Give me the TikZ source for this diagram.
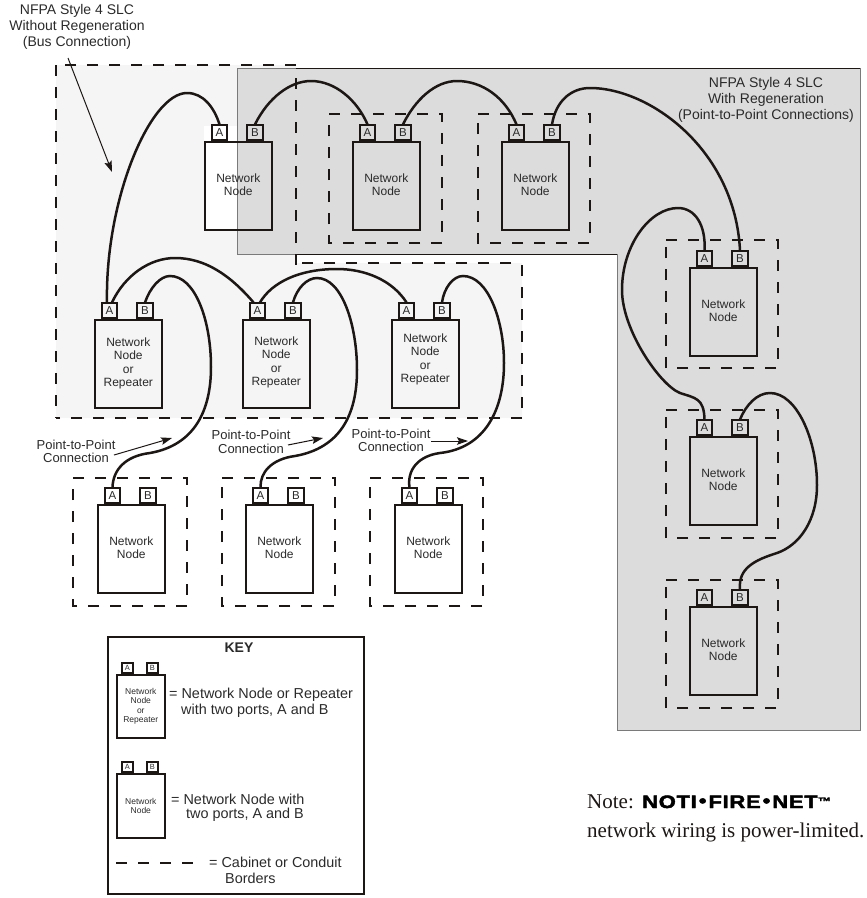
\documentclass[tikz,border=0pt]{standalone}
\usepackage{fontspec}
\setmainfont{Liberation Sans}
\newfontfamily\serifnote{Liberation Serif}
\newfontfamily\heavyfont[FakeBold=2.5,FakeStretch=1.22,LetterSpace=4]{Liberation Sans Bold}
\usetikzlibrary{arrows.meta}
\definecolor{ink}{HTML}{1C1715}
\definecolor{txt}{HTML}{2A2A2A}
\definecolor{lightzone}{HTML}{F5F5F5}
\definecolor{grayzone}{HTML}{DCDCDC}
\definecolor{zoneedge}{HTML}{7A7A7A}
\tikzset{
  nodebox/.style={draw=ink,line width=1.6pt,anchor=north west,inner sep=0pt,minimum width=67pt,minimum height=88pt},
  nodelabel/.style={inner sep=0pt,align=center,text=txt,font=\fontsize{12}{13.2}\selectfont},
  portbox/.style={draw=ink,line width=1.6pt,anchor=south,inner sep=0pt,minimum width=15.5pt,minimum height=15pt,text=txt,font=\fontsize{11.5}{12}\selectfont},
  keynode/.style={draw=ink,line width=1.6pt,anchor=north west,inner sep=0pt,minimum width=48pt,align=center,text=txt,font=\fontsize{8.5}{9.6}\selectfont},
  keyport/.style={draw=ink,line width=1.6pt,anchor=south,inner sep=0pt,minimum width=11pt,minimum height=10pt,text=txt,font=\fontsize{7.5}{8}\selectfont},
  border/.style={draw=ink,line width=1.7pt,dash pattern=on 11pt off 11pt},
  wire/.style={draw=ink,line width=2.5pt},
  pointer/.style={draw=ink,line width=1pt,-{Stealth[length=11pt,width=7.5pt,inset=2pt]}},
  caption/.style={inner sep=0pt,align=center,text=txt,font=\fontsize{14}{16.2}\selectfont},
  ptp/.style={inner sep=0pt,align=center,text=txt,font=\fontsize{13}{13.6}\selectfont},
  keytext/.style={inner sep=0pt,anchor=west,text=txt,font=\fontsize{14.4}{16}\selectfont},
}
\newcommand{\netnode}[5][1]{%
  \node[nodebox] (#2) at (#3,#4) {};
  \node[nodelabel] (#2t) at ([yshift=#1pt]#2.center) {#5};
  \node[portbox] (#2a) at (#3+15.5,#4) {A};
  \node[portbox] (#2b) at (#3+51,#4) {B};
}
\newcommand{\cabinetbox}[4]{\draw[border] (#1,#2) -- (#3,#2) -- (#3,#4) -- (#1,#4) -- (#1,#2);}
\begin{document}
\begin{tikzpicture}[x=1pt,y=-1pt]
\useasboundingbox (0,0) rectangle (867,898);
% zones
\fill[lightzone] (56,65) -- (296,65) -- (296,263) -- (522,263) -- (522,418) -- (56,418) -- cycle;
\fill[white] (204,126) rectangle (271,229);
\fill[grayzone] (237,68.5) -- (860,68.5) -- (860,730.5) -- (617,730.5) -- (617,254.5) -- (237,254.5) -- cycle;
\draw[zoneedge,line width=1pt] (237,68.5) -- (860,68.5) -- (860,730.5) -- (617,730.5) -- (617,254.5) -- (237,254.5) -- cycle;
\draw[ink,line width=1pt] (296,68.5) -- (860,68.5);
\draw[ink,line width=1pt] (296,254.5) -- (617,254.5);
% bus zone border, side by side so that the dashes fall as in the original
\draw[border] (56,65) -- (56,418);
\draw[border] (522,418) -- (56,418);
\draw[border] (522,265) -- (522,418);
\draw[border,dash phase=11pt] (522,263) -- (296,263);
\draw[border] (296,78) -- (296,265);
\draw[border] (296,65) -- (56,65);
% cabinets
\cabinetbox{329}{114}{442}{243}
\cabinetbox{478}{114}{590}{243}
\cabinetbox{73}{478}{187}{606}
\cabinetbox{222}{478}{335}{606}
\cabinetbox{370}{478}{483}{606}
\cabinetbox{666}{240}{778}{368}
\cabinetbox{666}{410}{778}{538}
\cabinetbox{666}{580}{778}{708}
% nodes
\netnode{n1}{204}{141}{Network\\Node}
\netnode{n2}{352}{141}{Network\\Node}
\netnode{n3}{501}{141}{Network\\Node}
\netnode[0.5]{n4}{94}{319}{Network\\Node\\or\\Repeater}
\netnode[1.5]{n5}{242}{319}{Network\\Node\\or\\Repeater}
\netnode[4.5]{n6}{391}{319}{Network\\Node\\or\\Repeater}
\netnode{n7}{97}{504}{Network\\Node}
\netnode{n8}{245}{504}{Network\\Node}
\netnode{n9}{394}{504}{Network\\Node}
\netnode{r1}{689}{267}{Network\\Node}
\netnode{r2}{689}{436}{Network\\Node}
\netnode{r3}{689}{606}{Network\\Node}
% wires
\draw[wire] ([xshift=-2.5pt]n4a.north) .. controls (105,200) and (150,93) .. (187,93) .. controls (203,93) and (214,107) .. (n1a.north);
\draw[wire] (n1b.north) .. controls (268,98) and (290,81) .. (311,81) .. controls (335,81) and (357,100) .. (n2a.north);
\draw[wire] (n2b.north) .. controls (415,100) and (435,81) .. (457,81) .. controls (482,81) and (505,97) .. (n3a.north);
\draw[wire] (n3b.north) .. controls (556,100) and (572,88) .. (590,88) .. controls (650,88) and (735,150) .. (r1b.north);
\draw[wire] (r1a.north) .. controls (706,225) and (695,208) .. (678,208) .. controls (650,208) and (622,245) .. (622,290) .. controls (622,330) and (660,385) .. (680,393) .. controls (695,398) and (704,398) .. (r2a.north);
\draw[wire] (r2b.north) .. controls (746,405) and (757,393) .. (770,393) .. controls (797,393) and (817,440) .. (817,485) .. controls (817,520) and (800,545) .. (777,553) .. controls (755,560) and (738,568) .. (r3b.north);
\draw[wire] ([xshift=2.5pt]n4a.north) .. controls (125,275) and (150,258) .. (175,258) .. controls (205,258) and (230,275) .. ([xshift=-4pt]n5a.north);
\draw[wire] ([xshift=2.5pt]n5a.north) .. controls (272,282) and (300,269) .. (337,269) .. controls (365,269) and (392,280) .. (n6a.north);
\draw[wire] (n4b.north) .. controls (150,288) and (160,276) .. (170,276) .. controls (195,276) and (211,320) .. (211,367) .. controls (211,410) and (195,445) .. (150,453) .. controls (125,456) and (113,470) .. (n7a.north);
\draw[wire] (n5b.north) .. controls (297,288) and (307,278) .. (317,278) .. controls (342,278) and (357,325) .. (357,370) .. controls (357,415) and (340,448) .. (295,456) .. controls (272,459) and (260,472) .. (n8a.north);
\draw[wire] (n6b.north) .. controls (444,288) and (453,276) .. (463,276) .. controls (488,276) and (504,320) .. (504,363) .. controls (504,410) and (485,448) .. (440,453) .. controls (418,456) and (407,470) .. (n9a.north);
% captions
\node[caption] (capa) at (77,27) {NFPA Style 4 SLC\\Without Regeneration\\(Bus Connection)};
\node[caption] (capb) at (766,100) {NFPA Style 4 SLC\\With Regeneration\\(Point-to-Point Connections)};
\coordinate (capatail) at (68,58);
\coordinate (capatip) at (112,172);
\draw[pointer] (capatail) -- (capatip);
\node[ptp] (pa) at (76,451.5) {Point-to-Point\\Connection};
\node[ptp] (pb) at (251,442) {Point-to-Point\\Connection};
\node[ptp] (pc) at (391,440.5) {Point-to-Point\\Connection};
\coordinate (pat) at (114,455); \coordinate (pah) at (172,438);
\coordinate (pbt) at (288,445); \coordinate (pbh) at (323,438);
\coordinate (pct) at (431,441); \coordinate (pch) at (468,441);
\draw[pointer] (pat) -- (pah);
\draw[pointer] (pbt) -- (pbh);
\draw[pointer] (pct) -- (pch);
% key
\node[draw=ink,line width=2.2pt,anchor=north west,inner sep=0pt,minimum width=256pt,minimum height=257pt] (keyframe) at (107,636) {};
\node[inner sep=0pt,text=txt,font=\bfseries\fontsize{14}{16}\selectfont] (keytitle) at (239,648) {KEY};
\node[keynode,minimum height=63pt] (k1) at (116,674) {Network\\Node\\or\\Repeater};
\node[keyport] (k1a) at (127.5,674) {A};
\node[keyport] (k1b) at (152.5,674) {B};
\node[keynode,minimum height=64pt] (k2) at (116,773) {Network\\Node};
\node[keyport] (k2a) at (127.5,773) {A};
\node[keyport] (k2b) at (152.5,773) {B};
\node[keytext] (t1) at (169,695) {= Network Node or Repeater};
\node[keytext] (t2) at (181,711) {with two ports, A and B};
\node[keytext] (t3) at (171,799) {= Network Node with};
\node[keytext] (t4) at (186,815) {two ports, A and B};
\node[keytext] (t5) at (209,862) {= Cabinet or Conduit};
\node[keytext] (t6) at (225,878) {Borders};
\coordinate (kda) at (116,863); \coordinate (kdb) at (193,863);
\draw[border] (kda) -- (kdb);
% note
\node[anchor=base west,inner sep=0pt,text=ink,font=\serifnote\fontsize{21}{24}\selectfont] (n1t) at (587,808) {Note:};
\node[anchor=base west,inner sep=0pt,text=black,font=\heavyfont\fontsize{18}{24}\selectfont] (n2t) at (642,808) {NOTI\kern2pt\raisebox{0.12ex}{•}\kern2ptFIRE\kern2pt\raisebox{0.12ex}{•}\kern2ptNET\raisebox{0.3ex}{\fontsize{11}{12}\selectfont ™}};
\node[anchor=base west,inner sep=0pt,text=ink,font=\serifnote\fontsize{21}{24}\selectfont] (n3t) at (587,837) {network wiring is power-limited.};
\end{tikzpicture}
\end{document}
